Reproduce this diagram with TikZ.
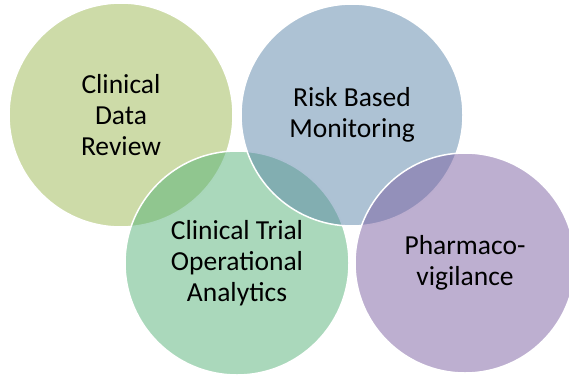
\documentclass[tikz,border=0pt]{standalone}
\usepackage{fontspec}
\setmainfont{Carlito}
\definecolor{reviewgreen}{RGB}{155,183,81}
\definecolor{riskblue}{RGB}{91,133,169}
\definecolor{trialgreen}{RGB}{85,177,119}
\definecolor{pharmapurple}{RGB}{123,95,161}
\tikzset{
  bubble/.style={draw=white, line width=1.5pt, fill opacity=0.5},
  bubbletext/.style={align=center, text opacity=1, font=\fontsize{27.5}{31}\selectfont}
}
\begin{document}
\begin{tikzpicture}[x=1pt, y=1pt]

\useasboundingbox (0,0) rectangle (569,376);
\clip (0,0) rectangle (569,376);

\filldraw [bubble, fill=reviewgreen]  (121,261)  circle (112) node [bubbletext] 	(cdr) {Clinical\\Data\\Review};
\filldraw [bubble, fill=trialgreen]  (237,113)  circle (112) node [bubbletext] 	(ctoa) {Clinical Trial\\Operational\\Analytics};
\filldraw [bubble, fill=riskblue]  (352,261)  circle (111) node [bubbletext] 	(rbm) {Risk Based\\Monitoring};
\filldraw [bubble, fill=pharmapurple]  (465,113)  circle (110) node [bubbletext] 	(pv) {Pharmaco-\\vigilance};

\end{tikzpicture}
\end{document}
